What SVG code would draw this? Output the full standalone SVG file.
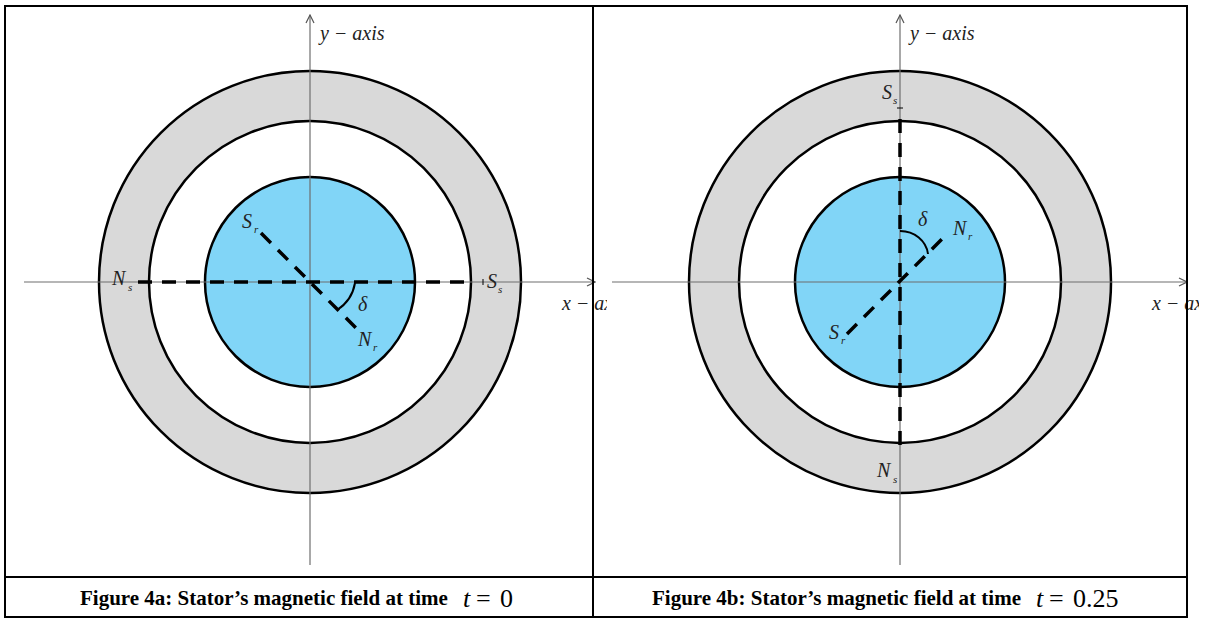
<svg xmlns="http://www.w3.org/2000/svg" width="1208" height="619" viewBox="0 0 1208 619">
<style>
.frame{stroke:#000;stroke-width:2;fill:none}
.ring{fill:#d9d9d9;stroke:#000;stroke-width:2.5}
.gap{fill:#fff;stroke:#000;stroke-width:2.5}
.rotor{fill:#81d5f7;stroke:#000;stroke-width:2.5}
.axis{stroke:#6e6e6e;stroke-width:1.2;fill:none}
.dash{stroke:#000;stroke-width:3.5;stroke-dasharray:14 10;fill:none}
.arc{stroke:#000;stroke-width:2;fill:none}
.tick{stroke:#000;stroke-width:1;fill:none}
.m{font-family:"Liberation Serif","Times New Roman",serif;font-style:italic;font-size:20px;fill:#222}
.sub{font-family:"Liberation Serif","Times New Roman",serif;font-style:italic;font-size:11px;fill:#222}
.cap{font-family:"Liberation Serif","Times New Roman",serif;font-weight:bold;font-size:21px;fill:#000}
.capm{font-family:"Liberation Serif","Times New Roman",serif;font-size:26px;fill:#000}
</style>
<defs>
<marker id="arr" viewBox="0 0 10 10" refX="9" refY="5" markerWidth="10" markerHeight="10" markerUnits="userSpaceOnUse" orient="auto">
<path d="M1,1 L9,5 L1,9" fill="none" stroke="#555" stroke-width="1.2"/>
</marker>
<clipPath id="clipL"><rect x="0" y="0" width="607" height="619"/></clipPath>
<clipPath id="clipR"><rect x="600" y="0" width="599" height="619"/></clipPath>
</defs>

<g id="panel-a">
<circle class="ring" cx="310" cy="282" r="211"/>
<circle class="gap" cx="310" cy="282" r="161"/>
<circle class="rotor" cx="310" cy="282" r="105"/>
</g>
<g id="panel-b">
<circle class="ring" cx="900" cy="282" r="211"/>
<circle class="gap" cx="900" cy="282" r="161"/>
<circle class="rotor" cx="900" cy="282" r="105"/>
</g>

<g id="connectors">
<line class="axis" x1="310" y1="565" x2="310" y2="15" marker-end="url(#arr)"/>
<line class="axis" x1="24" y1="282" x2="595" y2="282" marker-end="url(#arr)"/>
<line class="axis" x1="900" y1="565" x2="900" y2="15" marker-end="url(#arr)"/>
<line class="axis" x1="612" y1="282" x2="1187" y2="282" marker-end="url(#arr)"/>
<line class="dash" x1="138" y1="282" x2="472" y2="282"/>
<line class="dash" x1="261" y1="233" x2="356" y2="328"/>
<path class="arc" d="M355,283 A40,40 0 0 1 337,310"/>
<line class="tick" x1="483" y1="279" x2="483" y2="285"/>
<line class="dash" x1="900" y1="119" x2="900" y2="455"/>
<line class="dash" x1="847" y1="334" x2="948" y2="233"/>
<path class="arc" d="M900,231 A28,26 0 0 1 928,254"/>
<line class="tick" x1="897" y1="108" x2="903" y2="108"/>
</g>

<g id="labels-a">
<text class="m" x="320" y="40">y − axis</text>
<g clip-path="url(#clipL)"><text class="m" x="562" y="310">x − axis</text></g>
<text class="m" x="112" y="285">N</text><text class="sub" x="128" y="291">s</text>
<text class="m" x="487" y="288">S</text><text class="sub" x="498" y="293">s</text>
<text class="m" x="242" y="228">S</text><text class="sub" x="254" y="233">r</text>
<text class="m" x="358" y="346">N</text><text class="sub" x="373" y="351">r</text>
<text class="m" x="358" y="311">δ</text>
</g>
<g id="labels-b">
<text class="m" x="910" y="40">y − axis</text>
<g clip-path="url(#clipR)"><text class="m" x="1152" y="310">x − axis</text></g>
<text class="m" x="882" y="99">S</text><text class="sub" x="893" y="104">s</text>
<text class="m" x="877" y="477">N</text><text class="sub" x="893" y="483">s</text>
<text class="m" x="829" y="339">S</text><text class="sub" x="841" y="344">r</text>
<text class="m" x="953" y="235">N</text><text class="sub" x="968" y="240">r</text>
<text class="m" x="918" y="226">δ</text>
</g>

<g id="frame">
<rect class="frame" x="5" y="6" width="1182" height="611"/>
<line class="frame" x1="593" y1="6" x2="593" y2="617"/>
<line class="frame" x1="5" y1="577" x2="1187" y2="577"/>
</g>

<g id="captions">
<text class="cap" x="80" y="605">Figure 4a: Stator’s magnetic field at time</text>
<text class="capm" x="463" y="607"><tspan font-style="italic">t</tspan><tspan x="476">=</tspan><tspan x="500">0</tspan></text>
<text class="cap" x="652" y="605">Figure 4b: Stator’s magnetic field at time</text>
<text class="capm" x="1036" y="607"><tspan font-style="italic">t</tspan><tspan x="1049">=</tspan><tspan x="1073">0.25</tspan></text>
</g>
</svg>
